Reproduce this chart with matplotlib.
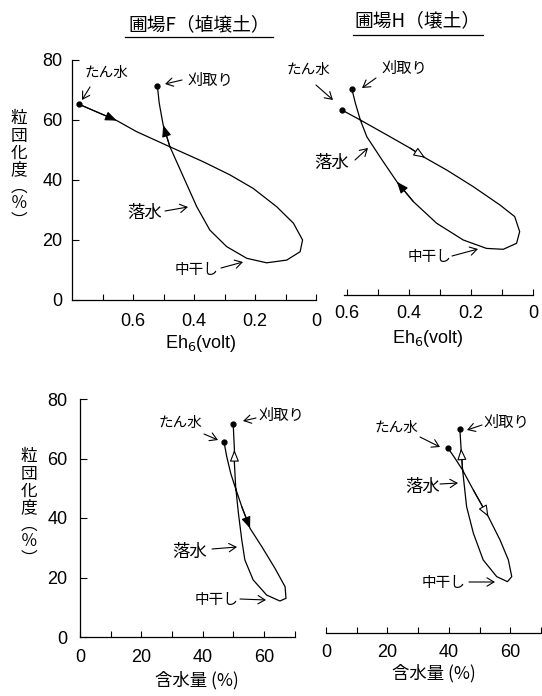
import matplotlib

matplotlib.use("Agg")
import matplotlib.pyplot as plt
from matplotlib.lines import Line2D
from matplotlib.patches import FancyArrowPatch

plt.rcParams["font.family"] = ["Liberation Sans", "Noto Sans CJK JP", "DejaVu Sans"]
JP = ["Noto Sans CJK JP", "DejaVu Sans"]

W, H = 542, 696

# Eh6 (volt) vs aggregation degree (%), field F (clay loam)
F_EH = [0.776, 0.653, 0.588, 0.484, 0.370, 0.282, 0.206, 0.129, 0.074, 0.044, 0.052,
        0.096, 0.162, 0.227, 0.293, 0.348, 0.391, 0.435, 0.479, 0.501, 0.514, 0.520]
F_EH_AGG = [65.2, 59.8, 56.1, 51.3, 46.1, 41.7, 37.2, 31.1, 25.6, 20.0, 16.1,
            13.3, 12.4, 13.9, 17.8, 23.3, 31.1, 41.1, 51.1, 58.3, 65.6, 71.3]

# Eh6 (volt) vs aggregation degree (%), field H (loam)
H_EH = [0.616, 0.557, 0.471, 0.396, 0.348, 0.278, 0.193, 0.107, 0.059, 0.043, 0.053,
        0.096, 0.150, 0.225, 0.311, 0.386, 0.439, 0.487, 0.536, 0.557, 0.573, 0.584]
H_EH_AGG = [63.3, 60.0, 55.0, 50.6, 47.4, 43.3, 37.8, 31.7, 27.8, 22.8, 18.9,
            16.9, 17.2, 20.0, 25.6, 32.8, 39.4, 46.7, 54.4, 60.0, 65.6, 70.2]

# water content (%) vs aggregation degree (%), field F
F_W = [46.9, 47.8, 49.1, 50.5, 52.7, 55.4, 59.2, 63.5, 66.8, 67.1, 65.1,
       60.8, 56.4, 53.7, 52.7, 51.6, 50.7, 50.3, 50.3, 49.9]
F_W_AGG = [65.6, 60.6, 55.0, 50.5, 43.8, 36.5, 30.4, 23.1, 16.9, 13.0, 12.1,
           14.1, 19.2, 25.9, 32.6, 41.6, 50.5, 58.4, 62.9, 71.6]

# water content (%) vs aggregation degree (%), field H
H_W = [39.8, 42.0, 44.5, 48.0, 52.9, 56.7, 59.4, 60.5, 59.1, 55.6, 51.2,
       48.0, 45.8, 44.5, 44.0, 43.6]
H_W_AGG = [63.4, 60.1, 56.1, 49.4, 40.4, 32.6, 25.9, 20.3, 18.6, 20.3, 25.9,
           34.9, 43.8, 56.1, 63.4, 69.8]

STAGES = ["たん水", "刈取り", "落水", "中干し"]
TITLES = ["圃場F（埴壌土）", "圃場H（壌土）"]
Y_LABEL = "粒\n団\n化\n度\n︵\n％\n︶"
EH_LABEL = "Eh$_6$(volt)"
W_LABEL = "含水量 (%)"


def box(x0, y0, x1, y1):
    # pixel box (top-left origin) -> figure fraction rect
    return [x0 / W, 1 - y1 / H, (x1 - x0) / W, (y1 - y0) / H]


def ff(x, y):
    return (x / W, 1 - y / H)


def style(ax, pad_x, show_y=True, pad_y=7, spine_shift=0):
    for side in ["top", "right"]:
        ax.spines[side].set_visible(False)
    ax.spines["left"].set_visible(show_y)
    ax.spines["bottom"].set_position(("outward", spine_shift))
    for sp in ax.spines.values():
        sp.set_linewidth(0.9)
    ax.tick_params(axis="x", which="both", direction="in", labelsize=13, pad=pad_x,
                   width=0.8, length=4)
    ax.tick_params(axis="y", direction="in", length=5, labelsize=13, pad=pad_y, width=0.8,
                   left=show_y, labelleft=show_y)
    ax.set_ylim(0, 80)
    ax.set_yticks([0, 20, 40, 60, 80])


def loop(ax, xs, ys, arrows):
    ax.plot(xs, ys, color="black", lw=0.9, clip_on=False)
    ax.plot([xs[0], xs[-1]], [ys[0], ys[-1]], "o", color="black", ms=3.5, clip_on=False)
    for i, filled in arrows:
        ax.annotate("", xy=(xs[i], ys[i]), xytext=(xs[i - 1], ys[i - 1]),
                    arrowprops=dict(arrowstyle="-|>,head_length=0.7,head_width=0.28",
                                    lw=0.8, color="black",
                                    fc="black" if filled else "white",
                                    shrinkA=0, shrinkB=0))


def label(fig, text, xy, tip, tail, size):
    fig.text(*ff(*xy), text, family=JP, fontsize=size, ha="center", va="center")
    arr = FancyArrowPatch(ff(*tail), ff(*tip), transform=fig.transFigure,
                          arrowstyle="->,head_length=0.5,head_width=0.3",
                          mutation_scale=10, lw=0.8, color="black",
                          shrinkA=0, shrinkB=0)
    fig.add_artist(arr)


fig = plt.figure(figsize=(W / 100, H / 100), dpi=100)

# top left: field F, Eh6
ax1 = fig.add_axes(box(72, 60, 316, 300))
loop(ax1, F_EH, F_EH_AGG, [(1, True), (19, True)])
ax1.set_xlim(0.8, 0.0)
ax1.set_xticks([0.6, 0.4, 0.2, 0.0], ["0.6", "0.4", "0.2", "0"])
ax1.set_xticks([0.7, 0.5, 0.3, 0.1], minor=True)
style(ax1, pad_x=9)

# top right: field H, Eh6
ax2 = fig.add_axes(box(533 - 0.62 * 310, 60, 533, 300))
loop(ax2, H_EH, H_EH_AGG, [(4, False), (16, True)])
ax2.set_xlim(0.62, 0.0)
ax2.spines["bottom"].set_bounds(0.61, 0.0)
ax2.set_xticks([0.6, 0.4, 0.2, 0.0], ["0.6", "0.4", "0.2", "0"])
ax2.set_xticks([0.5, 0.3, 0.1], minor=True)
style(ax2, pad_x=7, show_y=False, spine_shift=-3.6)

# bottom left: field F, water content
ax3 = fig.add_axes(box(80, 399, 80 + 70 * 3.07, 637))
loop(ax3, F_W, F_W_AGG, [(5, True), (18, False)])
ax3.set_xlim(0, 70)
ax3.set_xticks([0, 20, 40, 60])
ax3.set_xticks([10, 30, 50, 70], minor=True)
style(ax3, pad_x=9, pad_y=9)

# bottom right: field H, water content
ax4 = fig.add_axes(box(326, 399, 326 + 70 * 3.07, 637))
loop(ax4, H_W, H_W_AGG, [(4, False), (14, False)])
ax4.set_xlim(0, 70)
ax4.set_xticks([0, 20, 40, 60])
ax4.set_xticks([10, 30, 50, 70], minor=True)
style(ax4, pad_x=8, show_y=False, spine_shift=-2.9)

# titles with underline
for text, cx, cy, x0, x1, uy in [(TITLES[0], 199, 25, 125, 273, 37),
                                 (TITLES[1], 418, 21, 353, 483, 35)]:
    fig.text(*ff(cx, cy), text, family=JP, fontsize=13.5, ha="center", va="center")
    fig.add_artist(Line2D([x0 / W, x1 / W], [1 - uy / H, 1 - uy / H], color="black", lw=0.9))

# y labels (vertical)
for cx, cy in [(19, 170), (29, 508)]:
    fig.text(*ff(cx, cy), Y_LABEL, family=JP, fontsize=12, ha="center", va="center",
             linespacing=1.0)

# x labels
for cx, cy in [(201, 343), (428, 339)]:
    fig.text(*ff(cx, cy), EH_LABEL, fontsize=13, ha="center", va="center")
for cx, cy in [(197, 680), (434, 673)]:
    fig.text(*ff(cx, cy), W_LABEL, family=JP, fontsize=12.5, ha="center", va="center")

# stage labels with arrows: text centre, arrow tip, arrow tail
label(fig, STAGES[0], (106, 73), (82, 100), (90, 87), 10.5)
label(fig, STAGES[1], (210, 80), (165, 84), (182, 80), 11)
label(fig, STAGES[2], (145, 213), (188, 207), (165, 211), 12.5)
label(fig, STAGES[3], (197, 270), (243, 262), (221, 268), 10.5)

label(fig, STAGES[0], (308, 70), (333, 100), (316, 85), 10.5)
label(fig, STAGES[1], (404, 68), (362, 88), (376, 78), 11)
label(fig, STAGES[2], (332, 163), (368, 148), (355, 160), 12.5)
label(fig, STAGES[3], (430, 257), (478, 249), (452, 256), 10.5)

label(fig, STAGES[0], (180, 423), (218, 440), (204, 434), 10.5)
label(fig, STAGES[1], (281, 415), (243, 421), (256, 418), 11)
label(fig, STAGES[2], (190, 552), (237, 547), (212, 549), 12.5)
label(fig, STAGES[3], (217, 600), (266, 600), (240, 599), 10.5)

label(fig, STAGES[0], (396, 428), (440, 447), (420, 437), 10.5)
label(fig, STAGES[1], (506, 422), (467, 430), (482, 425), 11)
label(fig, STAGES[2], (423, 487), (458, 483), (440, 484), 12.5)
label(fig, STAGES[3], (444, 583), (495, 582), (469, 582), 10.5)

fig.savefig("out.png", dpi=100)
plt.close(fig)
